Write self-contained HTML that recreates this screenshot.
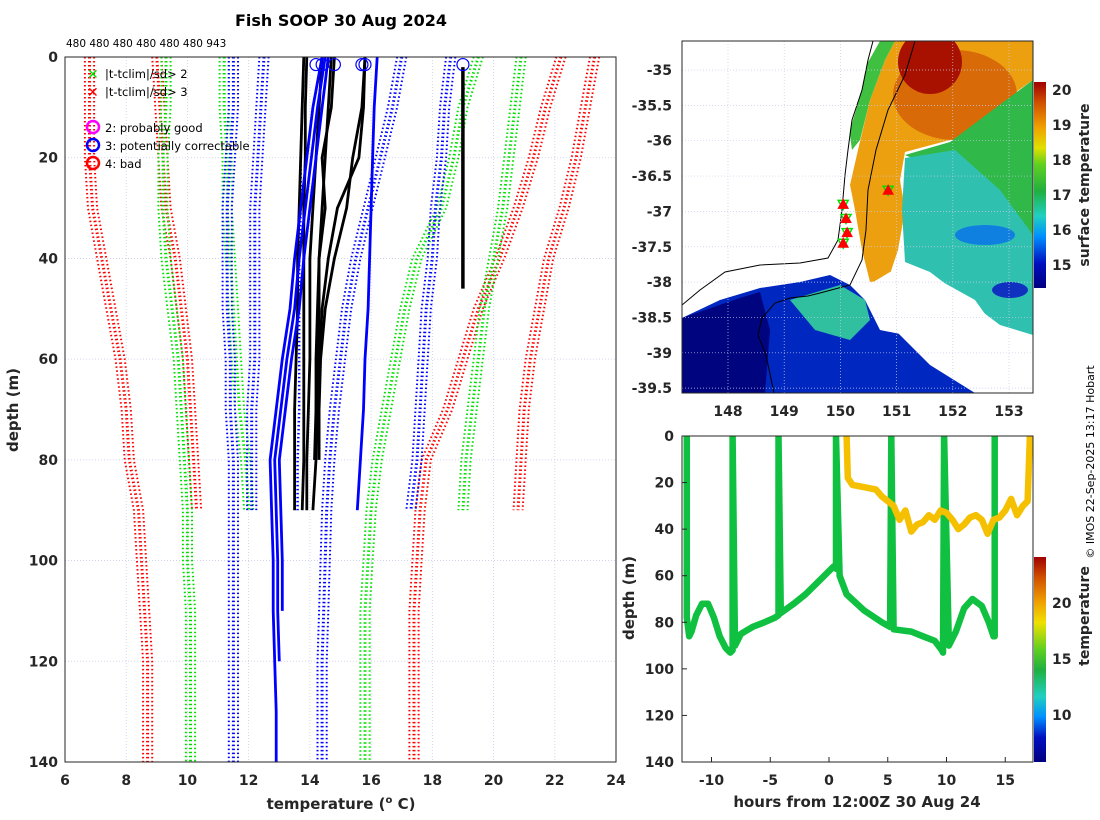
<!DOCTYPE html>
<html><head><meta charset="utf-8"><style>
body{margin:0;background:#fff}
svg{display:block;font-family:"DejaVu Sans","Liberation Sans",sans-serif}
.tk{font-size:14px;font-weight:bold;fill:#262626}
</style></head><body>
<svg id="fig" width="1100" height="820" viewBox="0 0 1100 820" xmlns="http://www.w3.org/2000/svg">
<defs>
<linearGradient id="cbMap" x1="0" y1="1" x2="0" y2="0">
<stop offset="0" stop-color="#00007f"/><stop offset="0.12" stop-color="#0010c0"/><stop offset="0.25" stop-color="#0090ff"/><stop offset="0.35" stop-color="#20d0c0"/><stop offset="0.47" stop-color="#20b040"/><stop offset="0.6" stop-color="#60d020"/><stop offset="0.68" stop-color="#e0e000"/><stop offset="0.78" stop-color="#f0a000"/><stop offset="0.9" stop-color="#d05000"/><stop offset="1" stop-color="#a00000"/>
</linearGradient>
<linearGradient id="cbT" x1="0" y1="1" x2="0" y2="0">
<stop offset="0" stop-color="#00007f"/><stop offset="0.12" stop-color="#0010c0"/><stop offset="0.22" stop-color="#0090ff"/><stop offset="0.32" stop-color="#20d0c0"/><stop offset="0.45" stop-color="#20b040"/><stop offset="0.55" stop-color="#60d020"/><stop offset="0.68" stop-color="#f0e000"/><stop offset="0.78" stop-color="#f0a000"/><stop offset="0.9" stop-color="#d05000"/><stop offset="1" stop-color="#a00000"/>
</linearGradient>
<clipPath id="clipL"><rect x="65" y="57" width="551" height="705"/></clipPath>
<clipPath id="clipM"><rect x="682" y="41" width="351" height="352"/></clipPath>
<clipPath id="clipB"><rect x="682" y="436" width="351" height="326"/></clipPath>
</defs>

<text x="341" y="26" text-anchor="middle" font-size="16" font-weight="bold" fill="#000">Fish SOOP 30 Aug 2024</text>
<text x="66" y="47" font-size="10.5" fill="#000">480 480 480 480 480 480 943</text>

<g id="left"></g>
<text transform="translate(18,410) rotate(-90)" text-anchor="middle" font-size="15" font-weight="bold" fill="#262626">depth (m)</text>
<text x="341" y="809" text-anchor="middle" font-size="15" font-weight="bold" fill="#262626">temperature (<tspan font-size="10" dy="-6">o</tspan><tspan dy="6"> C)</tspan></text>

<g font-size="11.5" fill="#000">
<text x="87" y="79" fill="#00e000" font-size="14" font-weight="bold">✕</text><text x="105" y="78">|t-tclim|/sd&gt; 2</text>
<text x="87" y="97" fill="#ff0000" font-size="14" font-weight="bold">✕</text><text x="105" y="96">|t-tclim|/sd&gt; 3</text>
<circle cx="93" cy="127" r="6" fill="none" stroke="#ff00ff" stroke-width="2.5"/><text x="105" y="132">2: probably good</text>
<circle cx="93" cy="145" r="6" fill="none" stroke="#0000ff" stroke-width="2.5"/><text x="105" y="150">3: potentially correctable</text>
<circle cx="93" cy="163" r="6" fill="none" stroke="#ff0000" stroke-width="2.5"/><text x="105" y="168">4: bad</text>
</g>

<g id="map"></g>
<g id="bottom"></g>

<rect x="1034" y="82" width="12" height="206" fill="url(#cbMap)"/>
<rect x="1034" y="557" width="12" height="205" fill="url(#cbT)"/>
<text transform="translate(1089,185) rotate(-90)" text-anchor="middle" font-size="14" font-weight="bold" fill="#262626">surface temperature</text>
<text transform="translate(1089,616) rotate(-90)" text-anchor="middle" font-size="14" font-weight="bold" fill="#262626">temperature</text>
<text transform="translate(634,598) rotate(-90)" text-anchor="middle" font-size="15" font-weight="bold" fill="#262626">depth (m)</text>
<text x="857" y="807" text-anchor="middle" font-size="15" font-weight="bold" fill="#262626">hours from 12:00Z 30 Aug 24</text>
<text transform="translate(1094,462) rotate(-90)" text-anchor="middle" font-size="11" fill="#000">© IMOS 22-Sep-2025 13:17 Hobart</text>
</svg>
<script>
const NS='http://www.w3.org/2000/svg';
function mk(p,t,a){const e=document.createElementNS(NS,t);for(const k in a)e.setAttribute(k,a[k]);p.appendChild(e);return e;}

// ---------- left profile plot data ----------
const depths=[0,10,20,30,40,50,60,70,80,90,100,110,120,130,140];
const xTicks=[6,8,10,12,14,16,18,20,22,24];
const yTicks=[0,20,40,60,80,100,120,140];
const climRed1=[6.8,6.8,6.8,6.9,7.2,7.5,7.8,8.0,8.1,8.4,8.5,8.6,8.7,8.7,8.7];
const climRed2=[9.0,9.1,9.2,9.3,9.6,9.8,10.0,10.1,10.2,10.3];
const climRed3=[22.2,21.7,21.3,20.8,20.2,19.5,19.0,18.5,17.8,17.6,17.5,17.4,17.4,17.4,17.4];
const climRed4=[23.3,23.0,22.7,22.3,21.8,21.5,21.2,21.0,20.9,20.8];
const climGreen1=[9.3,9.3,9.2,9.2,9.3,9.5,9.7,9.8,9.9,10.0,10.0,10.1,10.1,10.1,10.1];
const climGreen2=[11.2,11.2,11.3,11.3,11.4,11.5,11.6,11.7,11.9,12.0];
const climGreen3=[19.5,19.0,18.7,18.3,17.5,17.1,16.8,16.5,16.2,16.0,15.9,15.8,15.8,15.8,15.8];
const climGreen4=[20.9,20.7,20.5,20.3,20.0,19.7,19.5,19.3,19.1,19.0];
const climBlue1=[11.5,11.5,11.4,11.3,11.3,11.3,11.4,11.4,11.5,11.5,11.5,11.5,11.5,11.5,11.5];
const climBlue2=[12.5,12.4,12.3,12.2,12.2,12.2,12.2,12.1,12.1,12.1];
const climBlue3=[17.0,16.7,16.3,15.9,15.5,15.2,15.0,14.8,14.65,14.55,14.5,14.45,14.4,14.4,14.4];
const climBlue4=[18.6,18.4,18.3,18.1,18.0,17.8,17.7,17.6,17.5,17.3];
const climBlue5=[13.8,13.75,13.7,13.7,13.65,13.65,13.65,13.65,13.6,13.6];
const blueProf1=[14.4,14.1,13.9,13.7,13.5,13.35,13.1,12.9,12.7,12.75,12.8,12.8,12.85,12.9,12.9];
const blueProf2=[14.5,14.25,14.05,13.85,13.65,13.5,13.25,13.05,12.85,12.9,12.95,12.95,13.0];
const blueProf3=[14.6,14.4,14.2,14.0,13.8,13.65,13.4,13.2,13.0,13.05,13.1,13.1];
const blueProf4=[16.2,16.1,16.05,16.0,15.95,15.9,15.8,15.75,15.65,15.55];
const blackProf1=[13.8,13.75,13.7,13.65,13.6,13.6,13.55,13.5,13.5,13.5];
const blackProf2=[13.9,13.85,13.85,13.8,13.8,13.8,13.8,13.8,13.8,13.75];
const blackProf3=[14.4,14.3,14.2,14.1,14.0,14.0,14.0,13.95,13.9,13.9];
const blackProf4=[14.7,14.6,14.5,14.4,14.3,14.25,14.2,14.2,14.2,14.1];
const blackProf5=[15.8,15.75,15.6,14.9,14.6,14.4,14.3,14.25,14.2];
const blackProf6=[15.8,15.7,15.4,15.2,14.8,14.5,14.35,14.3,14.3];
const blackProf7=[14.8,14.7,14.4,14.5,14.3,14.3,14.25,14.2,14.15];
const blackProf6b=[19.0,19.0,19.0,19.0,19.0];
const blackDepth6=[2,10,20,30,46];
const flagTemps=[14.2,14.4,14.8,15.7,15.8,19.0];

const L=document.getElementById('left');
const xL=t=>65+(t-6)*(551/18), yL=d=>57+d*(705/140);
mk(L,'rect',{x:65,y:57,width:551,height:705,fill:'#fff'});
xTicks.forEach(t=>{const g=mk(L,'line',{x1:xL(t),x2:xL(t),y1:57,y2:762,stroke:'#c8cce8','stroke-width':0.8,'stroke-dasharray':'1,2'});
 const tx=mk(L,'text',{x:xL(t),y:785,'text-anchor':'middle',class:'tk'});tx.textContent=t;});
yTicks.forEach(d=>{const g=mk(L,'line',{x1:65,x2:616,y1:yL(d),y2:yL(d),stroke:'#c8cce8','stroke-width':0.8,'stroke-dasharray':'1,2'});
 const tx=mk(L,'text',{x:58,y:yL(d)+5,'text-anchor':'end',class:'tk'});tx.textContent=d;});
const clipG=mk(L,'g',{'clip-path':'url(#clipL)'});
function prof(arr,col,dotted,w,name,dep){const ds=dep||depths;const pts=arr.map((t,i)=>xL(t).toFixed(1)+','+yL(ds[i]).toFixed(1)).join(' ');
 const a={points:pts,fill:'none',stroke:col,'stroke-width':w,'stroke-linejoin':'round'};if(dotted)a['stroke-dasharray']='1.5,2.5';
 const e=mk(clipG,'polyline',a);}
[[climRed1,'#ff0000'],[climRed2,'#ff0000'],[climRed3,'#ff0000'],[climRed4,'#ff0000'],[climGreen1,'#00e000'],[climGreen2,'#00e000'],[climGreen3,'#00e000'],[climGreen4,'#00e000'],[climBlue1,'#0000ff'],[climBlue2,'#0000ff'],[climBlue3,'#0000ff'],[climBlue4,'#0000ff']].forEach(([a,c])=>{
 prof(a,c,true,3,'climatology-line');prof(a.map(v=>v+0.15),c,true,2,'climatology-line');prof(a.map(v=>v-0.15),c,true,2,'climatology-line');});
prof(climBlue5,'#0000ff',true,2.5,'climatology-mean-line');
[blackProf1,blackProf2,blackProf3,blackProf4,blackProf5,blackProf6,blackProf7].forEach(a=>prof(a,'#000',false,2.8,'good-profile'));
[blueProf1,blueProf2,blueProf3,blueProf4].forEach(a=>prof(a,'#0000ff',false,2.8,'flagged-profile'));
prof(blackProf6b,'#000',false,3.5,'good-profile',blackDepth6);
flagTemps.forEach(t=>{const c=mk(clipG,'circle',{cx:xL(t),cy:yL(1.5),r:6,fill:'none',stroke:'#0000ff','stroke-width':1.2});});
mk(L,'rect',{x:65,y:57,width:551,height:705,fill:'none',stroke:'#262626','stroke-width':1});

// ---------- map ----------
const mapLonTicks=[148,149,150,151,152,153];
const mapLatTicks=[-35,-35.5,-36,-36.5,-37,-37.5,-38,-38.5,-39,-39.5];
const cbMapTicks=[15,16,17,18,19,20];
const stationLon=[150.85,150.05,150.1,150.12,150.05];
const stationLat=[-36.7,-36.9,-37.1,-37.3,-37.45];
const M=document.getElementById('map');
const xM=lo=>728+(lo-148)*56.2, yM=la=>70+(-35-la)*70.7;
const mg=mk(M,'g',{'clip-path':'url(#clipM)'});
mk(mg,'rect',{x:682,y:41,width:351,height:352,fill:'#fff'});
function poly(p,c,n){const e=mk(mg,'polygon',{points:p,fill:c});}
poly('682,318 720,300 760,288 800,282 830,275 850,285 870,305 900,335 930,365 975,393 682,393','#0028c0','sst-south-blue');
poly('682,318 740,298 760,292 770,330 765,393 682,393','#00047f','sst-cold-water');
poly('790,300 840,285 865,300 870,320 850,340 815,330','#30c0a0','sst-south-teal');
poly('895,41 1033,41 1033,80 990,110 950,140 905,152 900,180 905,210 898,250 888,280 870,282 862,250 855,210 850,185 858,150 870,100 885,60','#eca010','sst-warm-core');
poly('880,41 895,41 885,60 870,100 860,140 852,150 848,120 858,80','#40c040','sst-coastal-green');
mk(mg,'ellipse',{cx:955,cy:95,rx:62,ry:45,fill:'#d86a08'});
mk(mg,'ellipse',{cx:930,cy:62,rx:32,ry:32,fill:'#a81000'});
poly('1033,80 1033,235 990,205 950,175 905,155 950,142 990,112','#30b848','sst-green-region');
poly('905,158 955,150 1000,190 1033,235 1033,335 1000,325 960,295 930,272 905,262 902,210','#30c0b0','sst-teal-region');
mk(mg,'ellipse',{cx:985,cy:235,rx:30,ry:10,fill:'#1080e0'});
mk(mg,'ellipse',{cx:1010,cy:290,rx:18,ry:8,fill:'#1030c0'});
poly('860,290 890,272 930,275 975,300 1000,335 980,345 930,340 880,330','#ffffff','cloud-gap');
poly('682,41 873,41 868,60 862,90 850,130 845,170 842,210 838,240 828,258 800,263 760,265 725,272 700,290 682,305','#ffffff','land');
const cst=mk(mg,'polyline',{points:'873,41 868,60 862,90 852,120 848,150 845,175 842,210 838,240 828,258 800,263 760,265 725,272 700,290 682,305',fill:'none',stroke:'#000','stroke-width':1});

const iso=mk(mg,'polyline',{points:'915,41 905,75 888,110 876,150 868,190 866,230 862,260 850,285 820,293 808,296 790,298 775,303 762,318 758,335 766,355 774,393',fill:'none',stroke:'#000','stroke-width':1});

mapLonTicks.forEach(lo=>{const g=mk(mg,'line',{x1:xM(lo),x2:xM(lo),y1:41,y2:393,stroke:'#c8cce8','stroke-width':0.7,'stroke-dasharray':'1,2'});
 const t=mk(M,'text',{x:xM(lo),y:416,'text-anchor':'middle',class:'tk'});t.textContent=lo;});
mapLatTicks.forEach(la=>{const g=mk(mg,'line',{x1:682,x2:1033,y1:yM(la),y2:yM(la),stroke:'#c8cce8','stroke-width':0.7,'stroke-dasharray':'1,2'});
 const t=mk(M,'text',{x:672,y:yM(la)+5,'text-anchor':'end',class:'tk'});t.textContent=la;});
stationLon.forEach((lo,i)=>{const x=xM(lo),y=yM(stationLat[i]);
 const a=mk(mg,'polygon',{points:`${x-5},${y-4} ${x+5},${y-4} ${x},${y+5}`,fill:'none',stroke:'#00e000','stroke-width':1.5});
 const b=mk(mg,'polygon',{points:`${x-5},${y+4} ${x+5},${y+4} ${x},${y-5}`,fill:'#ff0000',stroke:'#ff0000','stroke-width':1});});
mk(M,'rect',{x:682,y:41,width:351,height:352,fill:'none',stroke:'#262626','stroke-width':1});
const yCbM=v=>90+(20-v)*35;
cbMapTicks.forEach(v=>{const t=mk(M,'text',{x:1052,y:yCbM(v)+5,class:'tk'});t.textContent=v;});

// ---------- bottom depth-time ----------
const bxTicks=[-10,-5,0,5,10,15];
const byTicks=[0,20,40,60,80,100,120,140];
const cbTTicks=[10,15,20];
const greenHours=[-12.1,-12.1,-11.9,-11.7,-11.3,-10.8,-10.3,-9.8,-9.3,-8.8,-8.4,-8.2,-8.2,-8.0,-7.5,-6.5,-5.5,-4.6,-4.3,-4.3,-4.1,-3,-2,-1,0,0.4,0.6,0.6,0.9,1.5,3,4.5,5.2,5.3,5.3,5.5,7,8,9,9.6,9.7,9.8,10.2,10.8,11.5,12.2,13,13.6,14,14.1,14.1];
const greenDepth=[0,78,86,84,77,72,72,78,86,91,93,92,0,90,85,82,80,78,77,0,76,72,68,63,58,56,57,0,60,68,75,80,82,0,0,83,84,86,88,92,93,0,90,84,74,70,73,80,86,86,0];
const yellowHours=[1.5,1.6,2,3,4,4.5,5,5.5,6,6.5,7,7.5,8,8.5,9,9.5,10,10.5,11,11.5,12,12.5,13,13.5,14,14.5,15,15.5,16,16.5,16.9,17.1];
const yellowDepth=[0,18,21,22,23,26,28,30,36,32,41,38,37,34,36,32,33,36,40,38,35,34,36,42,36,35,32,27,34,30,28,0];
const B=document.getElementById('bottom');
const xB=h=>829+h*11.75, yB=d=>436+d*(326/140);
const bg=mk(B,'g',{'clip-path':'url(#clipB)'});
mk(bg,'rect',{x:682,y:436,width:351,height:326,fill:'#fff'});
const gl=mk(bg,'polyline',{points:greenHours.map((h,i)=>xB(h).toFixed(1)+','+yB(greenDepth[i]).toFixed(1)).join(' '),fill:'none',stroke:'#10c040','stroke-width':6.5,'stroke-linejoin':'round','stroke-linecap':'round'});

const yl=mk(bg,'polyline',{points:yellowHours.map((h,i)=>xB(h).toFixed(1)+','+yB(yellowDepth[i]).toFixed(1)).join(' '),fill:'none',stroke:'#f5c000','stroke-width':6.5,'stroke-linejoin':'round','stroke-linecap':'round'});

bxTicks.forEach(h=>{const t=mk(B,'text',{x:xB(h),y:785,'text-anchor':'middle',class:'tk'});t.textContent=h;
 mk(B,'line',{x1:xB(h),x2:xB(h),y1:762,y2:757,stroke:'#262626'});});
byTicks.forEach(d=>{const t=mk(B,'text',{x:674,y:yB(d)+5,'text-anchor':'end',class:'tk'});t.textContent=d;
 mk(B,'line',{x1:682,x2:687,y1:yB(d),y2:yB(d),stroke:'#262626'});});
mk(B,'rect',{x:682,y:436,width:351,height:326,fill:'none',stroke:'#262626','stroke-width':1});
const yCbT=v=>603+(20-v)*11.2;
cbTTicks.forEach(v=>{const t=mk(B,'text',{x:1052,y:yCbT(v)+5,class:'tk'});t.textContent=v;});
</script>
</body></html>
